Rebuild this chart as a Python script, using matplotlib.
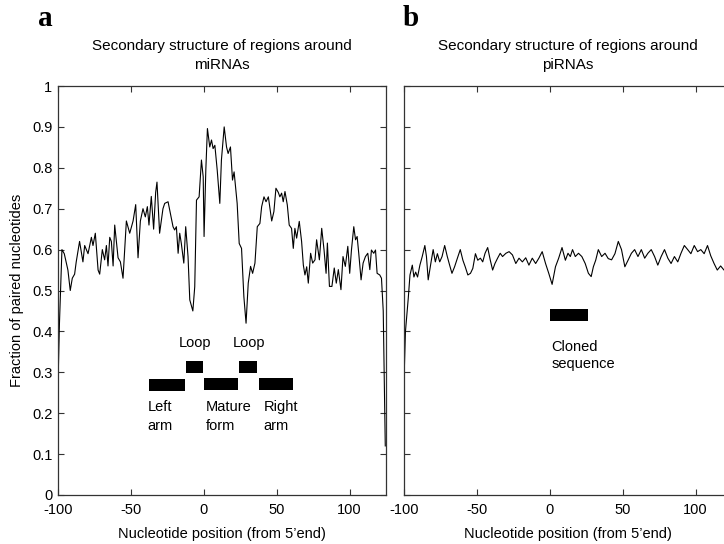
import matplotlib
matplotlib.use("Agg")
import matplotlib.pyplot as plt
from matplotlib.patches import Rectangle

plt.rcParams['font.family'] = ['Liberation Sans', 'DejaVu Sans']
plt.rcParams['axes.unicode_minus'] = False

# ---------------- data ----------------
mi_x = [-100, -99, -97.3, -95.7, -93.2, -91.6, -90.2, -88.6, -87.5, -85.2, -82.9, -81.7, -79.4,
        -77.1, -76.0, -74.4, -72.5, -71.4, -69.6, -68.0, -66.8, -65.7, -64.5, -63.4, -62.2,
        -61.1, -58.8, -57.2, -55.4, -53.1, -50.8, -48.5, -46.7, -45.1, -43.5, -41.7, -40.1,
        -38.7, -37.6, -36.0, -34.4, -33.0, -32.1, -30.3, -28.0, -26.8, -24.5, -23.4, -21.1,
        -20.0, -18.8, -17.6, -16.5, -15.4, -13.7, -12.4, -10.8, -9.6, -7.5, -6.2, -5.0, -3.2,
        -1.6, -0.4, 0.2, 1.4, 2.5, 4.1, 5.3, 6.4, 7.6, 9.2, 11.0, 12.1, 14.0, 15.6, 16.7, 18.3,
        19.7, 20.8, 22.9, 24.3, 25.9, 27.5, 29.0, 30.5, 32.1, 33.5, 35.1, 36.7, 38.5, 39.7,
        41.3, 42.7, 44.3, 45.4, 46.6, 48.1, 49.5, 51.1, 52.2, 53.4, 54.5, 55.7, 57.3, 58.6,
        60.2, 61.4, 62.5, 63.7, 65.5, 67.1, 68.3, 69.4, 70.6, 71.7, 73.3, 74.7, 76.3, 77.4,
        79.3, 80.9, 82.5, 83.9, 84.8, 86.2, 87.9, 89.5, 90.9, 92.3, 94.1, 95.5, 97.1, 98.8,
        100.1, 101.3, 102.9, 104.1, 105.2, 106.3, 107.9, 109.3, 110.9, 112.5, 113.9, 115.0,
        116.6, 117.8, 118.9, 120.7, 121.9, 123.1, 124.5]
mi_y = [0.27, 0.42, 0.60, 0.59, 0.55, 0.50, 0.53, 0.54, 0.57, 0.62, 0.57, 0.61, 0.59,
        0.63, 0.61, 0.64, 0.55, 0.54, 0.60, 0.575, 0.61, 0.56, 0.63, 0.62, 0.56,
        0.66, 0.58, 0.57, 0.53, 0.67, 0.64, 0.67, 0.71, 0.58, 0.67, 0.70, 0.68,
        0.705, 0.66, 0.73, 0.65, 0.74, 0.765, 0.64, 0.70, 0.713, 0.717, 0.697, 0.656,
        0.648, 0.656, 0.591, 0.640, 0.615, 0.567, 0.656, 0.583, 0.477, 0.45, 0.509, 0.721, 0.729,
        0.819, 0.778, 0.632, 0.795, 0.896, 0.851, 0.868, 0.847, 0.855, 0.795, 0.713, 0.819, 0.900, 0.851, 0.835, 0.851,
        0.770, 0.790, 0.713, 0.615, 0.603, 0.485, 0.42, 0.518, 0.559, 0.542, 0.567, 0.656, 0.664, 0.705,
        0.729, 0.717, 0.729, 0.70, 0.67, 0.693, 0.75, 0.74, 0.729, 0.738, 0.717, 0.742, 0.709, 0.660,
        0.652, 0.603, 0.652, 0.628, 0.669, 0.620, 0.562, 0.538, 0.558, 0.518, 0.591, 0.567, 0.575, 0.624,
        0.575, 0.652, 0.599, 0.542, 0.616, 0.510, 0.510, 0.555, 0.518, 0.551, 0.502, 0.583, 0.559, 0.608,
        0.542, 0.599, 0.656, 0.624, 0.632, 0.591, 0.526, 0.567, 0.583, 0.591, 0.551, 0.599,
        0.591, 0.599, 0.542, 0.538, 0.530, 0.45, 0.12]

pi_x = [-100, -99, -97.1, -95.9, -94.3, -93.2, -92.0, -90.7, -89.1, -87.5, -85.7, -84.6, -83.4,
        -81.6, -80.0, -78.5, -77.1, -75.5, -73.9, -72.1, -70.3, -68.7, -67.1, -65.3, -63.0,
        -61.4, -59.6, -58.0, -56.2, -54.4, -52.8, -51.0, -49.4, -47.6, -46.0, -44.4, -42.6,
        -40.8, -39.2, -37.6, -35.8, -34.0, -32.4, -30.1, -27.9, -25.6, -23.3, -21.1, -18.8,
        -16.5, -14.3, -12.0, -9.7, -7.5, -5.2, -2.9, -0.7, 1.6, 3.9, 6.1, 8.4, 10.7, 12.5,
        14.1, 15.6, 17.5, 19.7, 22.0, 24.3, 26.5, 28.4, 29.9, 31.5, 33.3, 35.6, 37.9, 40.1,
        42.4, 44.7, 47.0, 49.2, 51.5, 53.7, 56.0, 58.2, 60.5, 62.8, 65.1, 67.3, 69.6, 71.9,
        74.1, 76.4, 78.7, 81.0, 83.2, 85.5, 87.8, 90.0, 92.3, 94.6, 96.8, 99.1, 101.4, 103.6,
        105.9, 108.2, 110.4, 112.7, 114.9, 117.2, 119.5, 122.0, 125.0]
pi_y = [0.28, 0.40, 0.48, 0.538, 0.562, 0.533, 0.545, 0.533, 0.562, 0.583, 0.61, 0.583, 0.526,
        0.566, 0.60, 0.570, 0.59, 0.570, 0.583, 0.61, 0.583, 0.562, 0.542, 0.558, 0.583,
        0.60, 0.574, 0.558, 0.538, 0.542, 0.554, 0.59, 0.574, 0.579, 0.570, 0.591, 0.605,
        0.574, 0.550, 0.566, 0.579, 0.591, 0.583, 0.591, 0.595, 0.587, 0.566, 0.579, 0.570,
        0.58, 0.562, 0.579, 0.566, 0.579, 0.595, 0.566, 0.542, 0.515, 0.558, 0.579, 0.605, 0.574, 0.591,
        0.583, 0.60, 0.583, 0.591, 0.583, 0.566, 0.542, 0.534, 0.558, 0.574, 0.60, 0.583, 0.591, 0.578,
        0.575, 0.59, 0.62, 0.60, 0.558, 0.574, 0.591, 0.60, 0.583, 0.60, 0.579, 0.591, 0.60, 0.583,
        0.562, 0.583, 0.60, 0.579, 0.566, 0.583, 0.570, 0.591, 0.61, 0.60, 0.59, 0.61, 0.595, 0.60,
        0.59, 0.61, 0.585, 0.566, 0.550, 0.56, 0.55, 0.56, 0.55]

xticks = [-100, -50, 0, 50, 100]
yticks = [0, 0.1, 0.2, 0.3, 0.4, 0.5, 0.6, 0.7, 0.8, 0.9, 1]
ytick_labels = ['0', '0.1', '0.2', '0.3', '0.4', '0.5', '0.6', '0.7', '0.8', '0.9', '1']

# annotation bars: (start, end, y_bottom, y_top)
mi_bars = [(-37.5, -13.0, 0.255, 0.283), (-12.4, -0.6, 0.299, 0.328), (0.0, 23.6, 0.257, 0.285),
           (24.3, 36.2, 0.299, 0.328), (38.0, 61.4, 0.257, 0.285)]
mi_bar_labels = [(-38.5, 0.232, 'Left\narm', 'left'), (1.4, 0.232, 'Mature\nform', 'left'),
                 (41.0, 0.232, 'Right\narm', 'left'), (-6.2, 0.372, 'Loop', 'center'),
                 (31.0, 0.372, 'Loop', 'center')]
pi_bars = [(0.0, 26.0, 0.426, 0.455)]
pi_bar_labels = [(1.0, 0.38, 'Cloned\nsequence', 'left')]

# ---------------- figure ----------------
fig = plt.figure(figsize=(7.24, 5.44), dpi=100)
W, H = 724.0, 544.0
axa = fig.add_axes([58 / W, (H - 495) / H, 328 / W, 409 / H])
axb = fig.add_axes([404 / W, (H - 495) / H, 328 / W, 409 / H])

spine_col = '#333333'
for ax in (axa, axb):
    ax.set_xlim(-100, 125)
    ax.set_ylim(0, 1)
    ax.set_xticks(xticks)
    ax.set_yticks(yticks)
    ax.tick_params(direction='in', top=True, right=True, length=4, width=0.8,
                   labelsize=10.5, color=spine_col)
    ax.tick_params(axis='x', pad=6)
    ax.tick_params(axis='y', pad=4)
    for s in ax.spines.values():
        s.set_color(spine_col)
        s.set_linewidth(0.9)
    ax.set_xlabel('Nucleotide position (from 5\u2019end)', fontsize=10.5, labelpad=7)

axa.set_yticklabels(ytick_labels)
axb.set_yticklabels([])
axa.set_ylabel('Fraction of paired nucleotides', fontsize=10.5, labelpad=6)

axa.plot(mi_x, mi_y, color='black', lw=0.8)
axb.plot(pi_x, pi_y, color='black', lw=0.8)

for (x0, x1, y0, y1) in mi_bars:
    axa.add_patch(Rectangle((x0, y0), x1 - x0, y1 - y0, color='black', lw=0))
for (x, y, t, ha) in mi_bar_labels:
    axa.text(x, y, t, ha=ha, va='center' if t == 'Loop' else 'top', fontsize=10.5,
             linespacing=1.45)
for (x0, x1, y0, y1) in pi_bars:
    axb.add_patch(Rectangle((x0, y0), x1 - x0, y1 - y0, color='black', lw=0))
for (x, y, t, ha) in pi_bar_labels:
    axb.text(x, y, t, ha=ha, va='top', fontsize=10.5, linespacing=1.35)

axa.set_title('Secondary structure of regions around\nmiRNAs', fontsize=11, pad=12, linespacing=1.45)
axb.set_title('Secondary structure of regions around\npiRNAs', fontsize=11, pad=12, linespacing=1.45)

fig.text(38 / W, 1 - 18 / H, 'a', family='Liberation Serif', weight='bold', fontsize=21,
         ha='left', va='center')
fig.text(403 / W, 1 - 18 / H, 'b', family='Liberation Serif', weight='bold', fontsize=21,
         ha='left', va='center')

fig.savefig('out.png', dpi=100)
